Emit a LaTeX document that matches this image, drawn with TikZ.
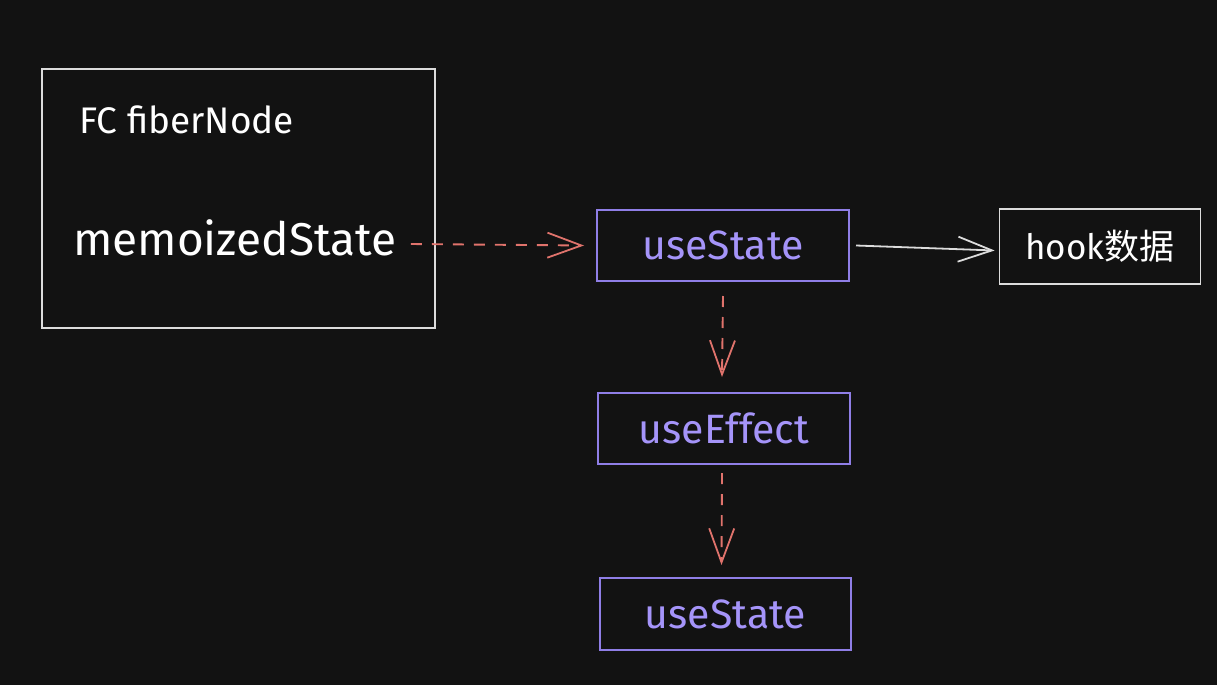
\documentclass[tikz,border=0pt]{standalone}
\usepackage{fontspec}
\setmainfont{Fira Sans}
\newfontfamily\cjk{Noto Sans CJK SC}
\usetikzlibrary{arrows.meta}
\definecolor{bg}{HTML}{121212}
\definecolor{wline}{HTML}{DCDCDC}
\definecolor{purp}{HTML}{8F7EE6}
\definecolor{purptext}{HTML}{A594F9}
\definecolor{redl}{HTML}{E0736C}
\tikzset{
  x=1pt, y=-1pt,
  wbox/.style={draw=wline, line width=1.8pt},
  pbox/.style={draw=purp, line width=2pt},
  ptext/.style={text=purptext, font=\fontsize{41}{41}\selectfont},
  wtext/.style={text=white},
  barb/.style={-{Straight Barb[length=34pt,width=25pt,line width=1.8pt]}},
  reddash/.style={draw=redl, line width=1.9pt, dash pattern=on 11pt off 10pt, barb},
  whitearrow/.style={draw=wline, line width=1.8pt, barb},
}
\begin{document}
\begin{tikzpicture}
\fill[bg] (0,0) rectangle (1217,685);
\useasboundingbox (0,0) rectangle (1217,685);
% big box
\node[wbox, minimum width=393pt, minimum height=259pt, inner sep=0pt] (fc) at (238.5,198.5) {};
\node[wtext, anchor=west, inner sep=0pt, font=\fontsize{37}{37}\selectfont] (fcl) at (79,120) {FC fiberNode};
\node[wtext, anchor=west, font=\fontsize{46}{46}\selectfont, inner sep=0pt] (ms) at (73,238) {memoizedState};
% boxes
\node[pbox, minimum width=252pt, minimum height=71pt, inner sep=0pt, ptext] (us1) at (723,245.5) {useState};
\node[wbox, minimum width=201pt, minimum height=75pt, inner sep=0pt, wtext, font=\fontsize{35}{35}\selectfont] (hook) at (1100,246.5) {hook{\cjk 数据}};
\node[pbox, minimum width=252pt, minimum height=71pt, inner sep=0pt, ptext] (ue) at (724,428.5) {useEffect};
\node[pbox, minimum width=251pt, minimum height=72pt, inner sep=0pt, ptext] (us2) at (725.5,614) {useState};
% connectors
\draw[reddash] ([xshift=14pt,yshift=-6pt]ms.east) -- ([xshift=-12pt]us1.west);
\draw[whitearrow] ([xshift=6pt]us1.east) -- ([xshift=-4pt,yshift=-4pt]hook.west);
\draw[reddash] ([yshift=-14pt]us1.south) -- ([xshift=-2pt,yshift=15pt]ue.north);
\draw[reddash] ([xshift=-2pt,yshift=-8pt]ue.south) -- ([xshift=-4pt,yshift=12pt]us2.north);
\end{tikzpicture}
\end{document}
